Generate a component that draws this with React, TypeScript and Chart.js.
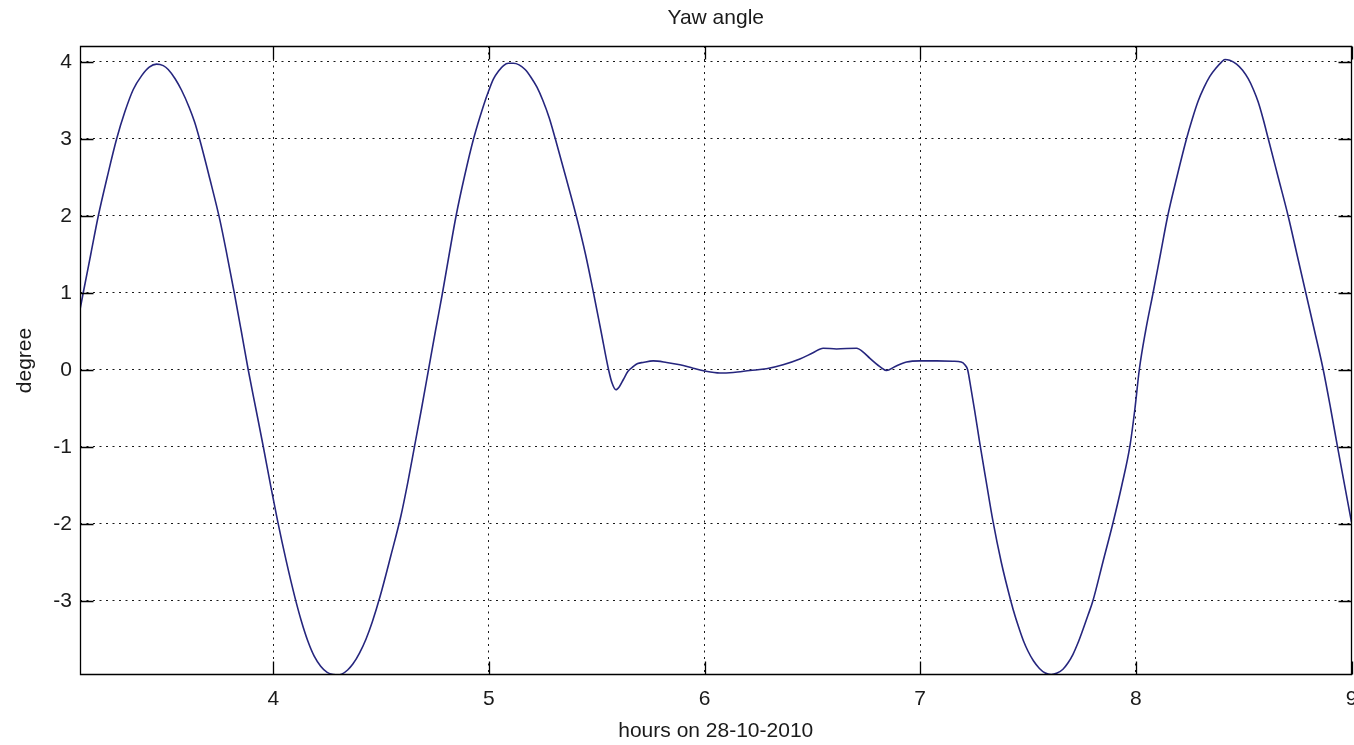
import React, { useEffect, useRef } from "react";
import { Chart, registerables } from "chart.js";

Chart.register(...registerables);

const TITLE = "Yaw angle";
const X_LABEL = "hours on 28-10-2010";
const Y_LABEL = "degree";

const X_TICKS = [4, 5, 6, 7, 8, 9];
const Y_TICKS = [-3, -2, -1, 0, 1, 2, 3, 4];

const X_MIN = 3.104;
const X_MAX = 9.0;
const Y_MIN = -3.965;
const Y_MAX = 4.205;

const hours = [
  3.104, 3.119, 3.154, 3.189, 3.23, 3.274, 3.312, 3.351, 3.39, 3.425,
  3.459, 3.49, 3.513, 3.545, 3.575, 3.61, 3.635, 3.66, 3.706, 3.753,
  3.787, 3.82, 3.852, 3.884, 3.919, 3.954, 3.987, 4.02, 4.06, 4.1,
  4.13, 4.16, 4.19, 4.22, 4.25, 4.28, 4.3, 4.32, 4.345, 4.37,
  4.4, 4.43, 4.46, 4.496, 4.545, 4.592, 4.625, 4.655, 4.688, 4.72,
  4.752, 4.785, 4.816, 4.848, 4.886, 4.929, 4.975, 5.0, 5.022, 5.045,
  5.068, 5.09, 5.114, 5.14, 5.168, 5.195, 5.223, 5.25, 5.28, 5.308,
  5.357, 5.405, 5.448, 5.485, 5.52, 5.555, 5.572, 5.589, 5.605, 5.623,
  5.645, 5.669, 5.69, 5.715, 5.762, 5.824, 5.886, 5.947, 6.001, 6.071,
  6.133, 6.21, 6.287, 6.364, 6.442, 6.503, 6.55, 6.612, 6.705, 6.74,
  6.766, 6.813, 6.844, 6.882, 6.937, 6.998, 7.076, 7.152, 7.19, 7.207,
  7.22, 7.23, 7.252, 7.275, 7.306, 7.337, 7.376, 7.42, 7.44, 7.461,
  7.48, 7.499, 7.525, 7.553, 7.58, 7.607, 7.635, 7.662, 7.685, 7.708,
  7.73, 7.754, 7.778, 7.801, 7.847, 7.893, 7.935, 7.972, 7.996, 8.016,
  8.045, 8.08, 8.114, 8.148, 8.19, 8.235, 8.262, 8.289, 8.315, 8.343,
  8.375, 8.395, 8.413, 8.435, 8.467, 8.495, 8.521, 8.545, 8.567, 8.59,
  8.614, 8.66, 8.706, 8.747, 8.788, 8.829, 8.869, 8.903, 8.935, 8.968,
  9.0,
];

const yawDegrees = [
  0.78, 1.0, 1.5, 2.0, 2.5, 3.0, 3.35, 3.64, 3.82, 3.93,
  3.97, 3.95, 3.9, 3.78, 3.63, 3.41, 3.22, 2.98, 2.48, 1.94,
  1.47, 0.99, 0.5, 0.0, -0.5, -1.0, -1.49, -1.96, -2.48, -2.95,
  -3.26, -3.52, -3.72, -3.85, -3.93, -3.96, -3.965, -3.95, -3.9, -3.82,
  -3.68, -3.5, -3.27, -2.94, -2.42, -1.9, -1.45, -1.0, -0.5, 0.0,
  0.5, 1.0, 1.5, 2.0, 2.5, 3.0, 3.43, 3.63, 3.78, 3.88,
  3.95, 3.98, 3.98, 3.96, 3.9, 3.8, 3.67, 3.5, 3.27, 3.0,
  2.5, 2.0, 1.5, 1.0, 0.5, 0.0, -0.18, -0.26, -0.22, -0.13,
  -0.02, 0.04, 0.08, 0.095, 0.115, 0.095, 0.065, 0.02, -0.017, -0.043,
  -0.035, -0.01, 0.013, 0.065, 0.14, 0.22, 0.28, 0.27, 0.28, 0.22,
  0.15, 0.04, -0.01, 0.04, 0.1, 0.115, 0.115, 0.11, 0.1, 0.065,
  0.0, -0.15, -0.52, -0.93, -1.45, -1.96, -2.5, -3.0, -3.2, -3.38,
  -3.53, -3.65, -3.78, -3.88, -3.94, -3.96, -3.94, -3.89, -3.81, -3.7,
  -3.56, -3.38, -3.19, -3.0, -2.5, -2.0, -1.5, -1.0, -0.5, 0.0,
  0.5, 1.0, 1.5, 2.0, 2.5, 3.0, 3.26, 3.49, 3.66, 3.81,
  3.93, 3.99, 4.03, 4.02, 3.97, 3.89, 3.78, 3.64, 3.48, 3.26,
  3.0, 2.5, 2.0, 1.5, 1.0, 0.5, 0.0, -0.5, -1.0, -1.5,
  -1.98,
];

const FONT_FAMILY = "'Liberation Sans', Arial, Helvetica, sans-serif";
const FONT_SIZE = 21;
const TEXT_COLOR = "#1a1a1a";
const TICK_LEN = 13;

const boxPlugin = {
  id: "matlabBox",
  afterDraw(chart: any) {
    const { ctx, chartArea } = chart;
    const { left, right, top, bottom } = chartArea;
    const xs = chart.scales.x;
    const ys = chart.scales.y;
    ctx.save();
    ctx.strokeStyle = "#000";
    ctx.lineWidth = 1.3;
    ctx.setLineDash([]);
    ctx.beginPath();
    const L = Math.round(left) + 0.5;
    const R = Math.round(right) - 0.5;
    const T = Math.round(top) + 0.5;
    const B = Math.round(bottom) - 0.5;
    ctx.rect(L, T, R - L, B - T);
    X_TICKS.forEach((v) => {
      const px = Math.round(xs.getPixelForValue(v)) + 0.5;
      ctx.moveTo(px, B);
      ctx.lineTo(px, B - TICK_LEN);
      ctx.moveTo(px, T);
      ctx.lineTo(px, T + TICK_LEN);
    });
    Y_TICKS.forEach((v) => {
      const py = Math.round(ys.getPixelForValue(v)) + 0.5;
      ctx.moveTo(L, py);
      ctx.lineTo(L + TICK_LEN, py);
      ctx.moveTo(R, py);
      ctx.lineTo(R - TICK_LEN, py);
    });
    ctx.stroke();
    ctx.restore();
  },
};

export default function App() {
  const canvasRef = useRef<HTMLCanvasElement | null>(null);

  useEffect(() => {
    document.body.style.margin = "0";
    const canvas = canvasRef.current;
    if (!canvas) return;
    const data = hours.map((h, i) => ({ x: h, y: yawDegrees[i] }));
    const chart = new Chart(canvas, {
      type: "line",
      data: {
        datasets: [
          {
            label: "Yaw angle",
            data,
            borderColor: "#26267e",
            borderWidth: 1.6,
            pointRadius: 0,
            fill: false,
            cubicInterpolationMode: "monotone",
          },
        ],
      },
      options: {
        animation: false,
        responsive: false,
        devicePixelRatio: 1,
        layout: { padding: { left: 0, right: 2.5, top: 0, bottom: 0 } },
        plugins: {
          legend: { display: false },
          tooltip: { enabled: false },
          title: {
            display: true,
            fullSize: false,
            text: TITLE,
            color: TEXT_COLOR,
            font: { family: FONT_FAMILY, size: FONT_SIZE, weight: "normal" },
            padding: { top: 5.4, bottom: 15.4 },
          },
        },
        scales: {
          x: {
            type: "linear",
            min: X_MIN,
            max: X_MAX,
            afterBuildTicks: (scale: any) => {
              scale.ticks = X_TICKS.map((v) => ({ value: v }));
            },
            afterFit: (scale: any) => {
              scale.height = 70;
              scale.paddingLeft = 0;
              scale.paddingRight = 0;
            },
            ticks: {
              color: TEXT_COLOR,
              font: { family: FONT_FAMILY, size: FONT_SIZE },
              padding: 11.4,
              maxRotation: 0,
              autoSkip: false,
              callback: (v: any) => String(v),
            },
            grid: {
              color: "rgba(0,0,0,0.9)",
              lineWidth: 1,
              drawTicks: false,
            },
            border: { display: false, dash: [2, 4.5] },
            title: {
              display: true,
              text: X_LABEL,
              color: TEXT_COLOR,
              font: { family: FONT_FAMILY, size: FONT_SIZE },
              padding: { top: 0, bottom: 1.4 },
            },
          },
          y: {
            type: "linear",
            min: Y_MIN,
            max: Y_MAX,
            afterBuildTicks: (scale: any) => {
              scale.ticks = Y_TICKS.map((v) => ({ value: v }));
            },
            afterFit: (scale: any) => {
              scale.width = 80;
              scale.paddingTop = 0;
              scale.paddingBottom = 0;
            },
            ticks: {
              color: TEXT_COLOR,
              font: { family: FONT_FAMILY, size: FONT_SIZE },
              padding: 8,
              autoSkip: false,
              callback: (v: any) => String(v),
            },
            grid: {
              color: "rgba(0,0,0,0.9)",
              lineWidth: 1,
              drawTicks: false,
            },
            border: { display: false, dash: [2, 4.5] },
            title: {
              display: true,
              text: Y_LABEL,
              color: TEXT_COLOR,
              font: { family: FONT_FAMILY, size: FONT_SIZE },
              padding: { top: 13, bottom: 0 },
            },
          },
        },
      },
      plugins: [boxPlugin],
    });
    return () => chart.destroy();
  }, []);

  return (
    <div style={{ position: "fixed", left: 0, top: 0, width: 1354, height: 745, background: "#fff" }}>
      <canvas ref={canvasRef} width={1354} height={745} style={{ display: "block" }} />
    </div>
  );
}
